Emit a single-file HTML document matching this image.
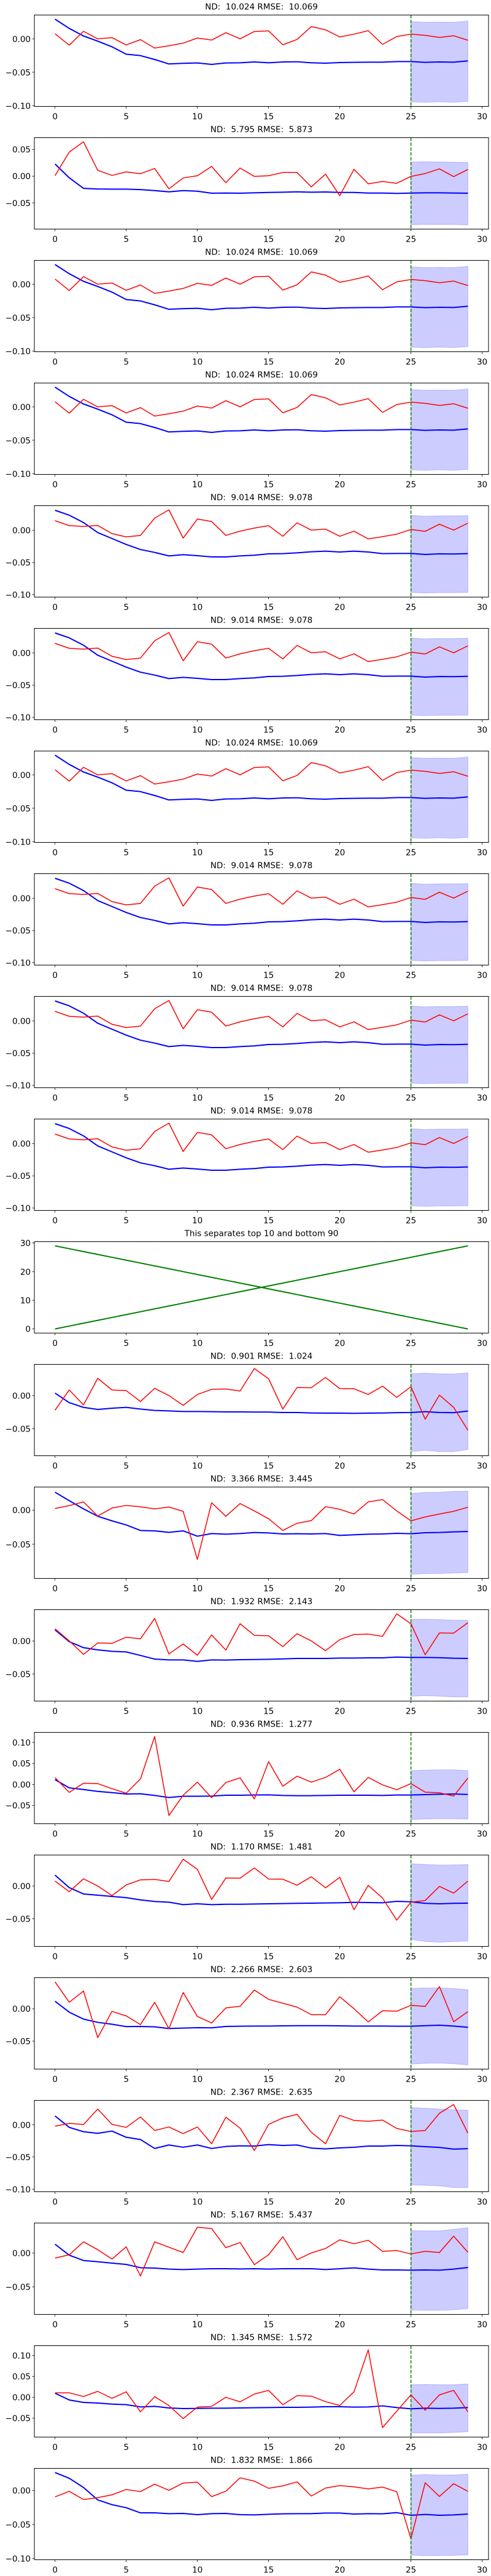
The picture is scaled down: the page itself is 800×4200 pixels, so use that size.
<!DOCTYPE html>
<html><head><meta charset="utf-8"><title>Forecast panels</title>
<style>
html,body{margin:0;padding:0;background:#fff;}
svg{display:block;}
text{font-family:"DejaVu Sans","Liberation Sans",sans-serif;font-size:13.5px;fill:#000;white-space:pre;}
</style></head>
<body>
<svg id="fig" width="800" height="4200" viewBox="0 0 800 4200" xmlns="http://www.w3.org/2000/svg" xml:space="preserve"></svg>
<script>
// ---- data ----
const xTicks = [0,5,10,15,20,25,30];
const titles = [
 "ND:  10.024 RMSE:  10.069","ND:  5.795 RMSE:  5.873","ND:  10.024 RMSE:  10.069","ND:  10.024 RMSE:  10.069",
 "ND:  9.014 RMSE:  9.078","ND:  9.014 RMSE:  9.078","ND:  10.024 RMSE:  10.069","ND:  9.014 RMSE:  9.078",
 "ND:  9.014 RMSE:  9.078","ND:  9.014 RMSE:  9.078","This separates top 10 and bottom 90",
 "ND:  0.901 RMSE:  1.024","ND:  3.366 RMSE:  3.445","ND:  1.932 RMSE:  2.143","ND:  0.936 RMSE:  1.277",
 "ND:  1.170 RMSE:  1.481","ND:  2.266 RMSE:  2.603","ND:  2.367 RMSE:  2.635","ND:  5.167 RMSE:  5.437",
 "ND:  1.345 RMSE:  1.572","ND:  1.832 RMSE:  1.866"];
const forecastStart = 25;

const redA=[0.0077,-0.0095,0.0113,0,0.0018,-0.0092,-0.0012,-0.0138,-0.0104,-0.0064,0.0012,-0.0018,0.0092,0,0.011,0.0119,-0.0089,-0.0009,0.0184,0.0135,0.0028,0.007,0.0122,-0.0083,0.0034,0.007,0.0052,0.0021,0.0046,-0.0021];
const blueA=[0.0294,0.0156,0.0043,-0.0034,-0.0119,-0.023,-0.0251,-0.0309,-0.0376,-0.0367,-0.0361,-0.0383,-0.0361,-0.0358,-0.0346,-0.0358,-0.0346,-0.0343,-0.0358,-0.0364,-0.0355,-0.0352,-0.0349,-0.0349,-0.034,-0.034,-0.0352,-0.0346,-0.0349,-0.033];
const hiA=[0.0257,0.0248,0.0251,0.0248,0.0266];
const loA=[-0.0942,-0.0949,-0.0942,-0.0949,-0.0936];

const redB=[0.0149,0.0073,0.006,0.0076,-0.0051,-0.0102,-0.0079,0.019,0.0318,-0.0121,0.0175,0.0137,-0.0079,-0.0013,0.0035,0.0073,-0.0092,0.0117,0.0003,0.0019,-0.0092,-0.0013,-0.0133,-0.0098,-0.006,0.0013,-0.0016,0.0095,0.0003,0.0111];
const blueB=[0.0311,0.0235,0.0121,-0.0035,-0.0127,-0.0219,-0.0298,-0.0343,-0.0397,-0.0378,-0.0394,-0.0413,-0.0413,-0.0397,-0.0387,-0.0365,-0.0362,-0.035,-0.0333,-0.0324,-0.0337,-0.0324,-0.0337,-0.0362,-0.0359,-0.0359,-0.0375,-0.0365,-0.0368,-0.0362];
const hiB=[0.0232,0.0219,0.0225,0.0225,0.0229];
const loB=[-0.0965,-0.0972,-0.0968,-0.0968,-0.0965];

const red1=[0.0008,0.0452,0.0642,0.011,0.0015,0.008,0.0046,0.0144,-0.0236,-0.0034,0.0008,0.0182,-0.0122,0.0152,-0.0004,0.0008,0.0068,0.0068,-0.0201,0.0038,-0.0365,0.0129,-0.0144,-0.0099,-0.0133,-0.0004,0.0049,0.0137,-0.0008,0.0125];
const blue1=[0.0228,-0.003,-0.0228,-0.024,-0.0243,-0.0243,-0.0251,-0.027,-0.0293,-0.027,-0.0281,-0.0319,-0.0315,-0.0319,-0.0312,-0.0304,-0.03,-0.0293,-0.03,-0.0296,-0.0304,-0.0304,-0.0315,-0.0315,-0.0323,-0.0315,-0.0312,-0.0312,-0.0315,-0.0319];
const hi1=[0.0266,0.027,0.0266,0.0262,0.0258];
const lo1=[-0.0908,-0.0904,-0.0904,-0.0904,-0.0912];

const sepUp=[0,1,2,3,4,5,6,7,8,9,10,11,12,13,14,15,16,17,18,19,20,21,22,23,24,25,26,27,28,29];
const sepDown=[29,28,27,26,25,24,23,22,21,20,19,18,17,16,15,14,13,12,11,10,9,8,7,6,5,4,3,2,1,0];

const red11=[-0.0219,0.0087,-0.0139,0.0263,0.0087,0.0077,-0.0087,0.0111,0.0003,-0.0145,0.0019,0.0096,0.0102,0.0071,0.0411,0.0256,-0.0201,0.0124,0.0121,0.0275,0.0108,0.0105,0.0019,0.0145,-0.0025,0.0136,-0.0355,0.0009,-0.0176,-0.0522];
const blue11=[0.004,-0.0105,-0.0176,-0.0207,-0.0189,-0.0176,-0.0201,-0.0222,-0.0229,-0.0238,-0.0238,-0.0241,-0.0244,-0.0244,-0.0247,-0.0247,-0.0253,-0.0253,-0.026,-0.0263,-0.0263,-0.0266,-0.0263,-0.026,-0.0256,-0.0253,-0.0241,-0.0253,-0.0256,-0.0232];
const hi11=[0.0334,0.034,0.0331,0.0328,0.0346];
const lo11=[-0.0844,-0.0825,-0.0844,-0.0844,-0.0813];

const red12=[0.0024,0.0066,0.012,-0.0087,0.003,0.0069,0.0048,0.0018,0.0045,-0.0018,-0.0722,0.0108,-0.009,0.0096,-0.0012,-0.0126,-0.0298,-0.0193,-0.0154,0.0051,0.0012,-0.0057,0.012,0.0154,-0.0012,-0.0157,-0.01,-0.0057,-0.0018,0.0042];
const blue12=[0.0262,0.0138,0.0018,-0.009,-0.0157,-0.0217,-0.0298,-0.0304,-0.0325,-0.0304,-0.0382,-0.0343,-0.0352,-0.0343,-0.0328,-0.0334,-0.0349,-0.0346,-0.0349,-0.0343,-0.037,-0.0361,-0.0352,-0.0349,-0.034,-0.0346,-0.0331,-0.0328,-0.0319,-0.0313];
const hi12=[0.0244,0.0259,0.0262,0.0274,0.0277];
const lo12=[-0.0939,-0.093,-0.0927,-0.0921,-0.0915];

const red13=[0.0187,0.0003,-0.0202,-0.0028,-0.0034,0.0059,0.0034,0.0345,-0.0196,-0.0044,-0.0215,0.0093,-0.0137,0.0264,0.0087,0.0081,-0.0084,0.0112,0.0003,-0.0146,0.0022,0.01,0.0106,0.0072,0.0414,0.0264,-0.0208,0.0124,0.0121,0.028];
const blue13=[0.0171,-0.0009,-0.01,-0.0134,-0.0156,-0.0165,-0.0218,-0.0274,-0.0286,-0.0286,-0.0308,-0.0286,-0.0289,-0.0283,-0.028,-0.0277,-0.0271,-0.0264,-0.0264,-0.0264,-0.0258,-0.0258,-0.0255,-0.0255,-0.0243,-0.0249,-0.0249,-0.0252,-0.0261,-0.0264];
const hi13=[0.0333,0.0333,0.0327,0.0317,0.0317];
const lo13=[-0.0837,-0.083,-0.0837,-0.0849,-0.0849];

const red14=[0.0161,-0.019,0.0029,0.0019,-0.0102,-0.0209,0.0131,0.114,-0.074,-0.0258,0.0054,-0.0317,0.0044,0.0156,-0.0346,0.0541,-0.0044,0.0195,0.0054,0.0166,0.036,-0.0175,0.0166,-0.001,-0.0127,0.0019,-0.0185,-0.02,-0.0278,0.0151];
const blue14=[0.0112,-0.0083,-0.0122,-0.0166,-0.0195,-0.0229,-0.0224,-0.0263,-0.0312,-0.0282,-0.0282,-0.0278,-0.0258,-0.0258,-0.0253,-0.0248,-0.0263,-0.0268,-0.0268,-0.0263,-0.0258,-0.0258,-0.0258,-0.0263,-0.0253,-0.0253,-0.0244,-0.0234,-0.0229,-0.0239];
const hi14=[0.0326,0.0341,0.0346,0.0346,0.0331];
const lo14=[-0.0838,-0.0823,-0.0818,-0.0818,-0.0828];

const red15=[0.0075,-0.0087,0.0109,0,-0.0146,0.0016,0.0093,0.01,0.0068,0.0407,0.0252,-0.0205,0.0121,0.0118,0.0274,0.0106,0.0103,0.0012,0.014,-0.0028,0.0131,-0.0361,0.0009,-0.0183,-0.0519,-0.0246,-0.0221,-0.0006,-0.0109,0.0075];
const blue15=[0.0165,-0.0025,-0.0121,-0.014,-0.0159,-0.0177,-0.0211,-0.0236,-0.0246,-0.0283,-0.0271,-0.0283,-0.0277,-0.0277,-0.0274,-0.0271,-0.0267,-0.0264,-0.0261,-0.0258,-0.0255,-0.0249,-0.0252,-0.0255,-0.0233,-0.024,-0.0264,-0.0271,-0.0264,-0.0261];
const hi15=[0.0339,0.0327,0.0317,0.032,0.0327];
const lo15=[-0.0812,-0.0843,-0.0855,-0.0843,-0.0837];

const red16=[0.0415,0.01,0.0273,-0.0446,-0.0041,-0.011,-0.0245,0.01,-0.0308,0.0251,-0.0119,-0.022,0.0013,0.0038,0.0289,0.0145,0.0085,0.0025,-0.0091,-0.0091,0.0185,0,-0.0204,-0.0031,-0.0038,0.0053,0.0035,0.0342,-0.0201,-0.0044];
const blue16=[0.0116,-0.0053,-0.016,-0.021,-0.0239,-0.0276,-0.0273,-0.0279,-0.0305,-0.0298,-0.0292,-0.0295,-0.0273,-0.027,-0.0267,-0.0267,-0.0264,-0.0261,-0.0261,-0.0261,-0.0264,-0.0267,-0.0267,-0.0267,-0.027,-0.027,-0.0261,-0.0254,-0.0267,-0.0286];
const hi16=[0.0314,0.032,0.032,0.0311,0.0295];
const lo16=[-0.0854,-0.0842,-0.0838,-0.0848,-0.0867];

const red17=[-0.0022,0.0022,0.0003,0.0244,0.0006,-0.0041,0.0121,-0.0089,-0.0035,-0.0137,-0.0035,-0.0295,0.0117,-0.0054,-0.04,0.0006,0.0105,0.0162,-0.0117,-0.0295,0.0146,0.0067,0.0054,0.0073,-0.0057,-0.0105,-0.0089,0.0178,0.0314,-0.013];
const blue17=[0.0137,-0.0041,-0.0108,-0.0133,-0.0098,-0.0194,-0.0229,-0.0368,-0.0314,-0.0349,-0.0314,-0.0368,-0.0337,-0.0327,-0.033,-0.0308,-0.0321,-0.0314,-0.0362,-0.0375,-0.0359,-0.0349,-0.033,-0.033,-0.0321,-0.0327,-0.034,-0.0352,-0.0378,-0.0371];
const hi17=[0.0267,0.0257,0.0244,0.0232,0.0225];
const lo17=[-0.0933,-0.094,-0.0949,-0.0975,-0.0975];

const red18=[-0.0075,-0.0027,0.0163,0.0048,-0.009,0.009,-0.034,0.0163,0.0084,0.0006,0.0379,0.0358,0.0078,0.0154,-0.0172,-0.0027,0.0238,-0.0099,0,0.0066,0.0193,0.0135,0.0187,0.0024,0.0036,-0.0015,0.0024,0.0006,0.0247,0.0009];
const blue18=[0.0129,-0.0033,-0.0111,-0.0129,-0.015,-0.0169,-0.0217,-0.0223,-0.0238,-0.0244,-0.0238,-0.0232,-0.0232,-0.0235,-0.0232,-0.0238,-0.0232,-0.0232,-0.0232,-0.0244,-0.0232,-0.022,-0.0238,-0.025,-0.025,-0.0253,-0.025,-0.0253,-0.0238,-0.0214];
const hi18=[0.0328,0.0325,0.0325,0.0346,0.0373];
const lo18=[-0.084,-0.0843,-0.0843,-0.0837,-0.0819];

const red19=[0.0108,0.0108,0.002,0.0142,-0.0025,0.0132,-0.0348,0.0015,-0.0196,-0.051,-0.0235,-0.0216,0,-0.0108,0.0078,0.0167,-0.0176,0.0039,0.0029,-0.0103,-0.0196,0.0132,0.1137,-0.0725,-0.0333,0.0059,-0.0309,0.0059,0.0167,-0.0348];
const blue19=[0.0098,-0.0064,-0.0123,-0.0137,-0.0162,-0.0176,-0.023,-0.0216,-0.0255,-0.0269,-0.0265,-0.026,-0.026,-0.0255,-0.025,-0.0245,-0.024,-0.024,-0.0235,-0.0226,-0.0226,-0.0235,-0.023,-0.0206,-0.0245,-0.0274,-0.026,-0.0265,-0.026,-0.0245];
const hi19=[0.0304,0.0309,0.0304,0.0304,0.0319];
const lo19=[-0.0853,-0.0853,-0.0853,-0.0843,-0.0823];

const red20=[-0.0093,-0.0012,-0.0132,-0.0105,-0.0063,0.0015,-0.0015,0.0093,0.0003,0.011,0.0123,-0.009,-0.0009,0.0187,0.0138,0.0033,0.0069,0.0127,-0.0081,0.0036,0.0072,0.0054,0.0024,0.0051,-0.0018,-0.071,0.0114,-0.0087,0.01,-0.0012];
const blue20=[0.0265,0.018,0.0045,-0.0138,-0.0208,-0.0253,-0.0328,-0.0328,-0.034,-0.0337,-0.0355,-0.034,-0.0337,-0.0355,-0.0358,-0.0349,-0.0343,-0.034,-0.034,-0.0331,-0.0331,-0.0346,-0.034,-0.0343,-0.0325,-0.0364,-0.0352,-0.0364,-0.0358,-0.0346];
const hi20=[0.0226,0.0235,0.0229,0.0229,0.0241];
const lo20=[-0.0951,-0.0957,-0.0957,-0.0954,-0.0948];

const panelReds=[redA,red1,redA,redA,redB,redB,redA,redB,redB,redB,null,red11,red12,red13,red14,red15,red16,red17,red18,red19,red20];
const panelBlues=[blueA,blue1,blueA,blueA,blueB,blueB,blueA,blueB,blueB,blueB,null,blue11,blue12,blue13,blue14,blue15,blue16,blue17,blue18,blue19,blue20];
const panelHi=[hiA,hi1,hiA,hiA,hiB,hiB,hiA,hiB,hiB,hiB,null,hi11,hi12,hi13,hi14,hi15,hi16,hi17,hi18,hi19,hi20];
const panelLo=[loA,lo1,loA,loA,loB,loB,loA,loB,loB,loB,null,lo11,lo12,lo13,lo14,lo15,lo16,lo17,lo18,lo19,lo20];

// ---- drawing ----
const NS="http://www.w3.org/2000/svg";
const svg=document.getElementById('fig');
const X0=56, X1=796, XMIN=-1.45, XMAX=30.45;
function xs(v){return X0+(v-XMIN)/(XMAX-XMIN)*(X1-X0);}
function mk(tag,attrs,parent){const e=document.createElementNS(NS,tag);for(const k in attrs)e.setAttribute(k,attrs[k]);(parent||svg).appendChild(e);return e;}
function fmt(v,dec){let s=Math.abs(v).toFixed(dec);return (v< -1e-9?"\u2212":"")+s;}

for(let p=0;p<titles.length;p++){
  const oy=200*p, top=oy+24.5, bot=oy+173.5;
  const g=mk('g',{});
  
  
  const sep = panelReds[p]===null;
  let vals=[];
  if(sep){vals=sepUp.concat(sepDown);}else{vals=panelReds[p].concat(panelBlues[p],panelHi[p],panelLo[p]);}
  const mn=Math.min(...vals), mx=Math.max(...vals), m=(mx-mn)*0.05;
  const ylo=mn-m, yhi=mx+m;
  const ys=v=>bot-(v-ylo)/(yhi-ylo)*(bot-top);

  const t=mk('text',{x:426,y:oy+15.5,'text-anchor':'middle'},g);
  t.textContent=titles[p];
  
  

  const clipId='clip'+p;
  const cp=mk('clipPath',{id:clipId},g);
  mk('rect',{x:X0,y:top,width:X1-X0,height:bot-top},cp);
  const plot=mk('g',{'clip-path':'url(#'+clipId+')'},g);

  if(sep){
    const pts1=sepUp.map((v,i)=>xs(i)+','+ys(v)).join(' ');
    const l1=mk('polyline',{points:pts1,fill:'none',stroke:'green','stroke-width':2},plot);
    
    
    const pts2=sepDown.map((v,i)=>xs(i)+','+ys(v)).join(' ');
    const l2=mk('polyline',{points:pts2,fill:'none',stroke:'green','stroke-width':2},plot);
    
    
  } else {
    const hi=panelHi[p], lo=panelLo[p];
    let bp=hi.map((v,i)=>xs(forecastStart+i)+','+ys(v));
    bp=bp.concat(lo.map((v,i)=>xs(forecastStart+i)+','+ys(v)).reverse());
    const band=mk('polygon',{points:bp.join(' '),fill:'blue','fill-opacity':0.2,stroke:'blue','stroke-opacity':0.2,'stroke-width':1},plot);
    
    
    const bl=mk('polyline',{points:panelBlues[p].map((v,i)=>xs(i)+','+ys(v)).join(' '),fill:'none',stroke:'blue','stroke-width':2,'stroke-linejoin':'round'},plot);
    
    
    const rl=mk('polyline',{points:panelReds[p].map((v,i)=>xs(i)+','+ys(v)).join(' '),fill:'none',stroke:'red','stroke-width':1.5,'stroke-linejoin':'round'},plot);
    
    
    const vl=mk('line',{x1:xs(forecastStart),x2:xs(forecastStart),y1:top,y2:bot,stroke:'green','stroke-width':1.5,'stroke-dasharray':'5.5,2.4'},g);
    
    
  }

  const fr=mk('rect',{x:X0,y:top,width:X1-X0,height:bot-top,fill:'none',stroke:'#000','stroke-width':1},g);
  
  

  xTicks.forEach(v=>{
    const x=xs(v);
    mk('line',{x1:x,x2:x,y1:bot,y2:bot+3.5,stroke:'#000','stroke-width':0.8},g);
    const tl=mk('text',{x:x,y:oy+194.6,'text-anchor':'middle'},g);
    tl.textContent=String(v);
    
    
  });

  const step=sep?10:0.05, dec=sep?0:2;
  for(let k=Math.ceil(ylo/step-1e-9);k*step<=yhi+1e-9;k++){
    const v=k*step, y=ys(v);
    mk('line',{x1:X0-3.5,x2:X0,y1:y,y2:y,stroke:'#000','stroke-width':0.8},g);
    const yl=mk('text',{x:X0-6,y:y+5,'text-anchor':'end'},g);
    yl.textContent=fmt(Math.abs(v)<1e-9?0:v,dec);
    
    
  }
}
</script>
</body></html>
